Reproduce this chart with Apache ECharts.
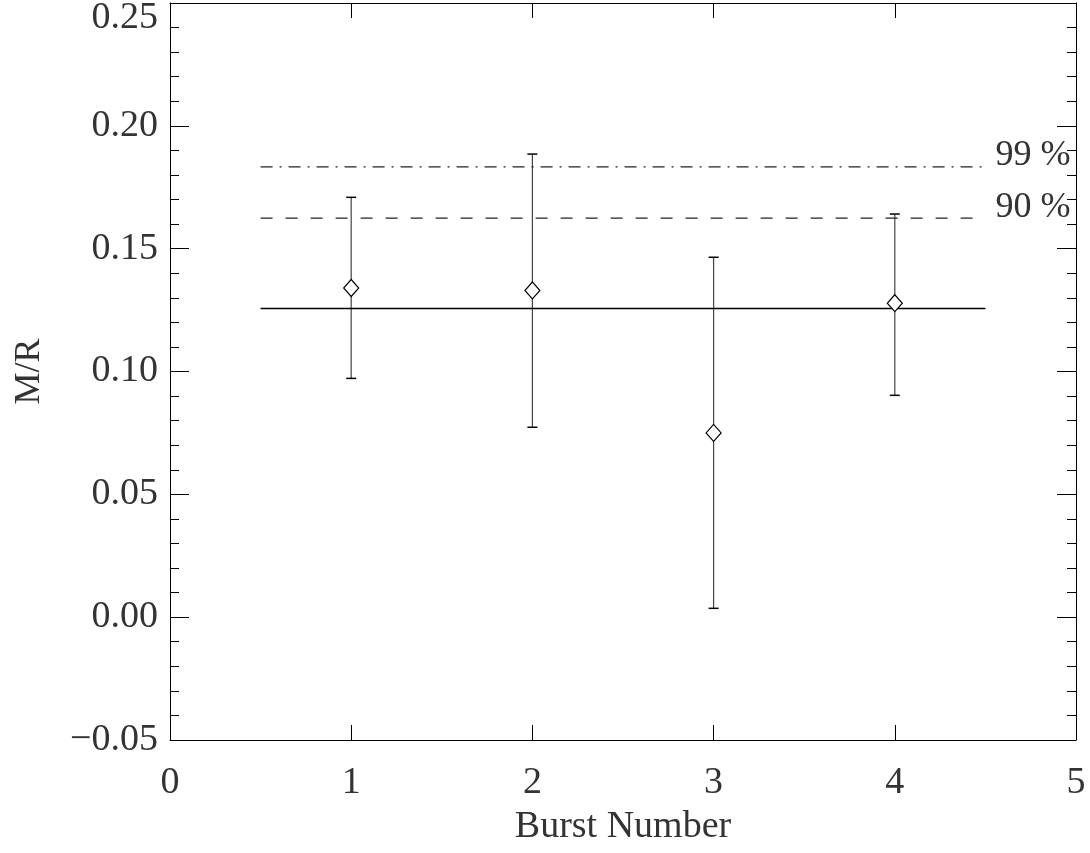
<!DOCTYPE html>
<html>
<head>
<meta charset="utf-8">
<script src="https://cdn.jsdelivr.net/npm/echarts@6/dist/echarts.min.js"></script>
<style>html,body{margin:0;padding:0;background:#fff}#c{width:1090px;height:853px}</style>
</head>
<body>
<div id="c"></div>
<script>
// Data
var bursts = [1, 2, 3, 4];
var mr = [0.1340, 0.1330, 0.0750, 0.1278];
var errLow = [0.0972, 0.0773, 0.0036, 0.0903];
var errHigh = [0.1709, 0.1885, 0.1465, 0.1641];
var meanLevel = 0.1256;
var level90 = 0.1624;
var level99 = 0.1833;
var lineRange = [0.5, 4.5];
var levelLabels = ['90 %', '99 %'];
var xTicks = [0, 1, 2, 3, 4, 5];
var yTicks = [-0.05, 0.00, 0.05, 0.10, 0.15, 0.20, 0.25];

var FONT = 'Liberation Serif';
var TXT = '#333';

function fmtY(v) {
  if (Math.abs(v) < 1e-9) v = 0;
  var s = v.toFixed(2);
  if (v < 0) s = '\u2212' + s.slice(1);
  if (Math.abs(v - 0.25) < 1e-9) return '{t|' + s + '}';
  return '{n|' + s + '}';
}

var points = bursts.map(function (b, i) { return [b, mr[i]]; });
var bars = bursts.map(function (b, i) { return [b, errLow[i], errHigh[i]]; });

var chart = echarts.init(document.getElementById('c'), null, {renderer: 'canvas'});
chart.setOption({
  animation: false,
  backgroundColor: '#fff',
  grid: {left: 170, right: 14, top: 3, bottom: 113, containLabel: false, outerBoundsMode: 'none'},
  xAxis: [{
    type: 'value', min: xTicks[0], max: xTicks[xTicks.length - 1], interval: 1,
    name: 'Burst Number', nameLocation: 'middle', nameGap: 68,
    nameTextStyle: {fontFamily: FONT, fontSize: 38, color: TXT},
    axisLine: {onZero: false, lineStyle: {color: '#000', width: 1}},
    axisTick: {inside: true, length: 15, lineStyle: {color: '#000'}},
    axisLabel: {fontFamily: FONT, fontSize: 38, color: TXT, margin: 24},
    splitLine: {show: false}
  }, {
    type: 'value', position: 'top', min: xTicks[0], max: xTicks[xTicks.length - 1], interval: 1,
    axisLine: {onZero: false, lineStyle: {color: '#000', width: 1}},
    axisTick: {inside: true, length: 15, lineStyle: {color: '#000'}},
    axisLabel: {show: false},
    splitLine: {show: false}
  }],
  yAxis: [{
    type: 'value', min: yTicks[0], max: yTicks[yTicks.length - 1], interval: 0.05,
    name: 'M/R', nameLocation: 'middle', nameGap: 122, nameRotate: 90,
    nameTextStyle: {fontFamily: FONT, fontSize: 36, color: TXT},
    axisLine: {onZero: false, lineStyle: {color: '#000', width: 1}},
    axisTick: {inside: true, length: 19, lineStyle: {color: '#000'}},
    minorTick: {show: true, splitNumber: 5, length: 9, lineStyle: {color: '#000'}},
    axisLabel: {
      formatter: fmtY, margin: 12,
      rich: {
        n: {fontFamily: FONT, fontSize: 38, color: TXT},
        t: {fontFamily: FONT, fontSize: 38, color: TXT, padding: [30, 0, 0, 0]}
      }
    },
    splitLine: {show: false}
  }, {
    type: 'value', position: 'right', min: yTicks[0], max: yTicks[yTicks.length - 1], interval: 0.05,
    axisLine: {onZero: false, lineStyle: {color: '#000', width: 1}},
    axisTick: {inside: true, length: 19, lineStyle: {color: '#000'}},
    minorTick: {show: true, splitNumber: 5, length: 9, lineStyle: {color: '#000'}},
    axisLabel: {show: false},
    splitLine: {show: false}
  }],
  series: [
    {
      type: 'line', data: [[lineRange[0], meanLevel], [lineRange[1], meanLevel]],
      symbol: 'none', lineStyle: {color: '#000', width: 1.5}, silent: true
    },
    {
      type: 'line',
      data: [[lineRange[0], level90], [lineRange[1], level90]],
      symbol: 'none',
      lineStyle: {color: '#222', width: 1.3, type: [12, 13]},
      endLabel: {show: true, formatter: levelLabels[0], distance: 10, offset: [0, -11], fontFamily: FONT, fontSize: 36, color: TXT},
      silent: true
    },
    {
      type: 'line',
      data: [[lineRange[0], level99], [lineRange[1], level99]],
      symbol: 'none',
      lineStyle: {color: '#222', width: 1.3, type: [12, 7, 2, 7]},
      endLabel: {show: true, formatter: levelLabels[1], distance: 10, offset: [0, -11], fontFamily: FONT, fontSize: 36, color: TXT},
      silent: true
    },
    {
      type: 'custom',
      data: bars,
      renderItem: function (params, api) {
        var x = api.value(0);
        var lo = api.coord([x, api.value(1)]);
        var hi = api.coord([x, api.value(2)]);
        var w = 5;
        return {type: 'group', children: [
          {type: 'line', shape: {x1: lo[0], y1: lo[1], x2: hi[0], y2: hi[1]}, style: {stroke: '#444', lineWidth: 1.2}},
          {type: 'line', shape: {x1: lo[0] - w, y1: lo[1], x2: lo[0] + w, y2: lo[1]}, style: {stroke: '#000', lineWidth: 1.5}},
          {type: 'line', shape: {x1: hi[0] - w, y1: hi[1], x2: hi[0] + w, y2: hi[1]}, style: {stroke: '#000', lineWidth: 1.5}}
        ]};
      },
      silent: true, z: 3
    },
    {
      type: 'scatter', data: points, symbol: 'diamond', symbolSize: [15, 17],
      itemStyle: {color: '#fff', borderColor: '#000', borderWidth: 1.2, opacity: 1},
      silent: true, z: 5
    }
  ]
});
</script>
</body>
</html>
